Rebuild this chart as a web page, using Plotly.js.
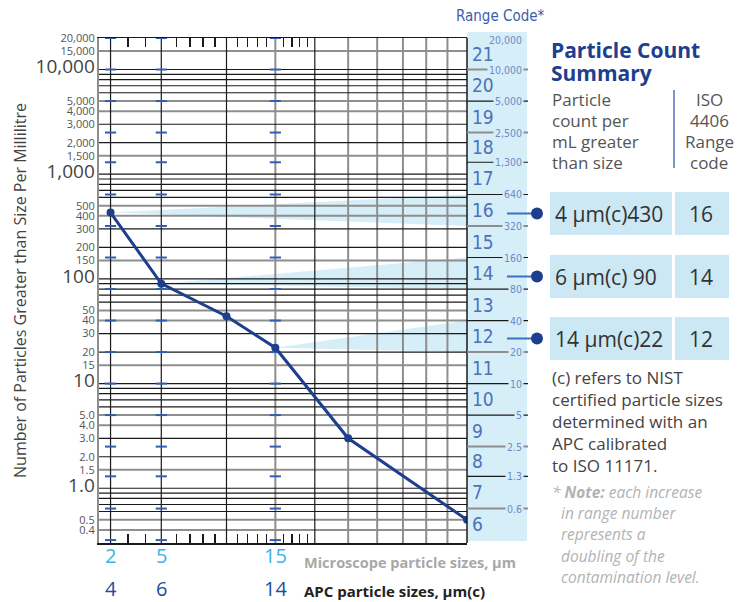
<!DOCTYPE html>
<html><head><meta charset="utf-8">
<script src="https://cdn.plot.ly/plotly-3.0.1.min.js"></script>
<style>html,body{margin:0;padding:0;background:#fff}#chart{width:746px;height:602px}</style>
</head><body><div id="chart"></div>
<script>
// ---------------- data ----------------
const microscopeSizes = [2, 5, 10, 15, 25, 50];          // µm (microscope), x of each point
const particleCounts  = [430, 90, 44, 22, 3.0, 0.5];     // particles / mL greater than size

const labelSizesMicroscope = [2, 5, 15];
const labelTextMicroscope  = ['2', '5', '15'];
const labelTextAPC         = ['4', '6', '14'];

const gridSizesBlack = [2, 5, 10, 20];
const gridSizesGray  = [15, 25, 30, 35, 40, 45];
const minorTickSizes = [3, 4, 6, 7, 8, 9, 11, 12, 13, 14, 16, 17, 18, 19];

const gridCountsBlack = [10000, 9000, 8000, 7000, 6000, 3000, 2000, 1000, 900, 800, 700, 600, 300, 200,
                         100, 90, 80, 70, 60, 30, 20, 10, 9, 8, 7, 6, 3, 2, 1, 0.9, 0.8, 0.7, 0.6];
const gridCountsGray  = [15000, 5000, 4000, 1500, 500, 400, 150, 50, 40, 15, 5, 4, 1.5, 0.5, 0.4];

const yTickVals = [20000, 15000, 10000, 5000, 4000, 3000, 2000, 1500, 1000, 500, 400, 300, 200, 150, 100,
                   50, 40, 30, 20, 15, 10, 5, 4, 3, 2, 1.5, 1, 0.5, 0.4];
const yTickText = ['20,000', '15,000', '10,000', '5,000', '4,000', '3,000', '2,000', '1,500', '1,000',
                   '500', '400', '300', '200', '150', '100', '50', '40', '30', '20', '15', '10',
                   '5.0', '4.0', '3.0', '2.0', '1.5', '1.0', '0.5', '0.4'];
const yTickBig  = [10000, 1000, 100, 10, 1];

const rangeBounds      = [20000, 10000, 5000, 2500, 1300, 640, 320, 160, 80, 40, 20, 10, 5, 2.5, 1.3, 0.64, 0.32];
const rangeBoundLabels = ['20,000', '10,000', '5,000', '2,500', '1,300', '640', '320', '160', '80', '40', '20',
                          '10', '5', '2.5', '1.3', '0.6', ''];
const rangeBoundGray   = [0, 1, 0, 1, 0, 0, 1, 0, 0, 0, 1, 0, 0, 1, 0, 1, 0];
const rangeCodes       = [21, 20, 19, 18, 17, 16, 15, 14, 13, 12, 11, 10, 9, 8, 7, 6];

const summarySizeText = ['4 µm(c)', '6 µm(c) ', '14 µm(c)'];
const summaryCounts   = [430, 90, 22];
const summaryCodes    = [16, 14, 12];
const summaryMicro    = [2, 5, 15];

// ---------------- helpers ----------------
const FONT = '"Open Sans", "Noto Sans", sans-serif';
const NARROW = '"Liberation Sans Narrow", "DejaVu Sans Condensed", sans-serif';
const L = 99, T = 38, PW = 368, PH = 505;
const px2x = px => (px - L) / PW;
const py2y = py => 1 - (py - T) / PH;
const xpos = d => Math.pow(Math.log10(d), 2);      // chart abscissa: (log d)^2
const XMAX = xpos(50);
const YMIN = 0.3, YMAX = 20000;
const PANEL = '#d6eef8';
const DARK = '#1d3f8e';

const traces = [];

// wedges from summary points to their range band
summaryCodes.forEach((c, i) => {
  const up = rangeBounds[21 - c], lo = rangeBounds[22 - c];
  traces.push({
    x: [xpos(summaryMicro[i]), XMAX, XMAX, xpos(summaryMicro[i])],
    y: [summaryCounts[i], up, lo, summaryCounts[i]],
    mode: 'lines', fill: 'toself', fillcolor: PANEL, line: {width: 0},
    hoverinfo: 'skip', showlegend: false
  });
});

function hLines(vals) {
  const x = [], y = [];
  vals.forEach(v => { x.push(0, XMAX, null); y.push(v, v, null); });
  return {x, y};
}
function vLines(vals) {
  const x = [], y = [];
  vals.forEach(v => { x.push(xpos(v), xpos(v), null); y.push(YMIN, YMAX, null); });
  return {x, y};
}
const hg = hLines(gridCountsGray), hb = hLines(gridCountsBlack);
const vg = vLines(gridSizesGray), vb = vLines(gridSizesBlack);
traces.push({x: hg.x, y: hg.y, mode: 'lines', line: {color: '#8e8e8e', width: 2}, hoverinfo: 'skip', showlegend: false});
traces.push({x: vg.x, y: vg.y, mode: 'lines', line: {color: '#8e8e8e', width: 2}, hoverinfo: 'skip', showlegend: false});
traces.push({x: hb.x, y: hb.y, mode: 'lines', line: {color: '#1a1a1a', width: 1.2}, hoverinfo: 'skip', showlegend: false});
traces.push({x: vb.x, y: vb.y, mode: 'lines', line: {color: '#1a1a1a', width: 1.2}, hoverinfo: 'skip', showlegend: false});

// blue range-boundary dashes on the labelled size lines
const dx = [], dy = [];
labelSizesMicroscope.forEach(s => rangeBounds.forEach(b => { dx.push(xpos(s)); dy.push(b); }));
traces.push({x: dx, y: dy, mode: 'markers', marker: {symbol: 'line-ew', size: 8, line: {color: '#2f5fb5', width: 2}},
  hoverinfo: 'skip', showlegend: false});

// data line
traces.push({
  x: microscopeSizes.map(xpos), y: particleCounts, mode: 'lines+markers',
  line: {color: DARK, width: 3}, marker: {color: DARK, size: 8},
  showlegend: false
});

// ---------------- shapes ----------------
const shapes = [];
shapes.push({type: 'rect', xref: 'paper', yref: 'paper', x0: 1, x1: px2x(527), y0: py2y(541), y1: py2y(32),
  fillcolor: PANEL, line: {width: 0}, layer: 'below'});
shapes.push({type: 'line', xref: 'paper', yref: 'paper', x0: 1, x1: 1, y0: 0, y1: 1, line: {color: '#1a1a1a', width: 1.5}});
rangeBounds.forEach((b, i) => {
  if (i === 0 || i === rangeBounds.length - 1) return;
  shapes.push({type: 'line', xref: 'paper', yref: 'y', x0: 1, x1: px2x(528), y0: b, y1: b,
    line: {color: rangeBoundGray[i] ? '#8e8e8e' : '#1a1a1a', width: rangeBoundGray[i] ? 2 : 1.2}});
});
// summary boxes and connectors
const rowTop = [192, 255, 317], rowH = 43;
summaryCodes.forEach((c, i) => {
  shapes.push({type: 'rect', xref: 'paper', yref: 'paper', x0: px2x(550), x1: px2x(672),
    y0: py2y(rowTop[i] + rowH), y1: py2y(rowTop[i]), fillcolor: '#cbe8f4', line: {width: 0}});
  shapes.push({type: 'rect', xref: 'paper', yref: 'paper', x0: px2x(675), x1: px2x(729),
    y0: py2y(rowTop[i] + rowH), y1: py2y(rowTop[i]), fillcolor: '#cbe8f4', line: {width: 0}});
  const cy = py2y(rowTop[i] + rowH / 2);
  shapes.push({type: 'line', xref: 'paper', yref: 'paper', x0: px2x(507), x1: px2x(537), y0: cy, y1: cy,
    line: {color: '#3b72c4', width: 2}});
  shapes.push({type: 'circle', xref: 'paper', yref: 'paper', xsizemode: 'pixel', ysizemode: 'pixel',
    xanchor: px2x(537), yanchor: cy, x0: -6, x1: 6, y0: -6, y1: 6, fillcolor: DARK, line: {width: 0}});
});
shapes.push({type: 'line', xref: 'paper', yref: 'paper', x0: px2x(674), x1: px2x(674), y0: py2y(90), y1: py2y(168),
  line: {color: '#7f97c9', width: 2}});

// ---------------- annotations ----------------
const ann = [];
function txt(text, pxX, pxY, size, color, opts) {
  ann.push(Object.assign({text, x: px2x(pxX), y: py2y(pxY), xref: 'paper', yref: 'paper',
    xanchor: 'left', yanchor: 'middle', showarrow: false,
    font: {family: FONT, size, color}}, opts || {}));
}
// range code panel
txt('Range Code*', 500, 16, 15, '#3a5ea8', {xanchor: 'center', font: {family: NARROW, size: 15, color: '#3a5ea8'}});
rangeBounds.forEach((b, i) => {
  if (!rangeBoundLabels[i]) return;
  ann.push({text: rangeBoundLabels[i], xref: 'paper', yref: 'y', x: px2x(524), y: Math.log10(b) - (i === 0 ? 0.02 : 0),
    xanchor: 'right', yanchor: 'middle', showarrow: false, bgcolor: PANEL, borderpad: 1,
    font: {family: NARROW, size: 10.5, color: '#6a8bcb'}});
});
rangeCodes.forEach((c, i) => {
  const mid = Math.sqrt(rangeBounds[i] * rangeBounds[i + 1]);
  ann.push({text: String(c), xref: 'paper', yref: 'y', x: px2x(470), y: Math.log10(mid),
    xanchor: 'left', yanchor: 'middle', showarrow: false,
    font: {family: NARROW, size: 19, color: '#4d72b8'}});
});
// bottom size labels
labelSizesMicroscope.forEach((s, i) => {
  ann.push({text: labelTextMicroscope[i], xref: 'x', yref: 'paper', x: xpos(s), y: py2y(555),
    xanchor: 'center', yanchor: 'middle', showarrow: false, font: {family: FONT, size: 20, color: '#3ab4e8'}});
  ann.push({text: labelTextAPC[i], xref: 'x', yref: 'paper', x: xpos(s), y: py2y(588),
    xanchor: 'center', yanchor: 'middle', showarrow: false, font: {family: FONT, size: 20, color: '#1f4d9c'}});
});
txt('<b>Microscope particle sizes, µm</b>', 302, 562, 14.5, '#a8a8a8');
txt('<b>APC particle sizes, µm(c)</b>', 302, 591, 15, '#222222');

// summary block
txt('<b>Particle Count</b>', 549, 50, 21, DARK);
txt('<b>Summary</b>', 549, 73, 21, DARK);
['Particle', 'count per', 'mL greater', 'than size'].forEach((t, i) => txt(t, 550, 99 + 21 * i, 17, '#555555'));
['ISO', '4406', 'Range', 'code'].forEach((t, i) => txt(t, 709, 99 + 21 * i, 17, '#555555', {xanchor: 'center'}));
summaryCodes.forEach((c, i) => {
  const cy = rowTop[i] + rowH / 2;
  txt(summarySizeText[i] + summaryCounts[i], 553, cy, 21, '#333333');
  txt(String(c), 701, cy, 21, '#333333', {xanchor: 'center'});
});
['(c) refers to NIST', 'certified particle sizes', 'determined with an', 'APC calibrated', 'to ISO 11171.']
  .forEach((t, i) => txt(t, 550, 377 + 22 * i, 17, '#444444'));
txt('<i>* <b>Note:</b> each increase</i>', 550, 492, 15.5, '#b3b3b3');
['in range number', 'represents a', 'doubling of the', 'contamination level.']
  .forEach((t, i) => txt('<i>' + t + '</i>', 559, 513 + 21.3 * i, 15.5, '#b3b3b3'));

// y tick labels with larger decades
const yText = yTickVals.map((v, i) => yTickBig.includes(v)
  ? '<span style="font-size:19px;color:#444">' + yTickText[i] + '</span>' : yTickText[i]);

const layout = {
  width: 746, height: 602,
  margin: {l: L, r: 746 - L - PW, t: T, b: 602 - T - PH},
  paper_bgcolor: '#ffffff', plot_bgcolor: '#ffffff',
  font: {family: FONT},
  showlegend: false,
  xaxis: {
    range: [0, XMAX], showgrid: false, zeroline: false,
    showline: true, mirror: 'ticks', linecolor: '#1a1a1a', linewidth: 1.5,
    tickmode: 'array', tickvals: minorTickSizes.map(xpos), ticks: 'inside', ticklen: 9,
    tickwidth: 1.2, tickcolor: '#1a1a1a', showticklabels: false, fixedrange: true
  },
  yaxis: {
    type: 'log', range: [Math.log10(YMIN), Math.log10(YMAX)],
    showgrid: false, zeroline: false, showline: true, linecolor: '#8e8e8e', linewidth: 2,
    tickmode: 'array', tickvals: yTickVals, ticktext: yText, ticks: '',
    tickfont: {family: FONT, size: 11, color: '#555555'},
    title: {text: 'Number of Particles Greater than Size Per Millilitre',
            font: {family: FONT, size: 16, color: '#444444'}, standoff: 5},
    fixedrange: true
  },
  shapes, annotations: ann
};

Plotly.newPlot('chart', traces, layout, {displayModeBar: false, staticPlot: true});
</script>
</body></html>
